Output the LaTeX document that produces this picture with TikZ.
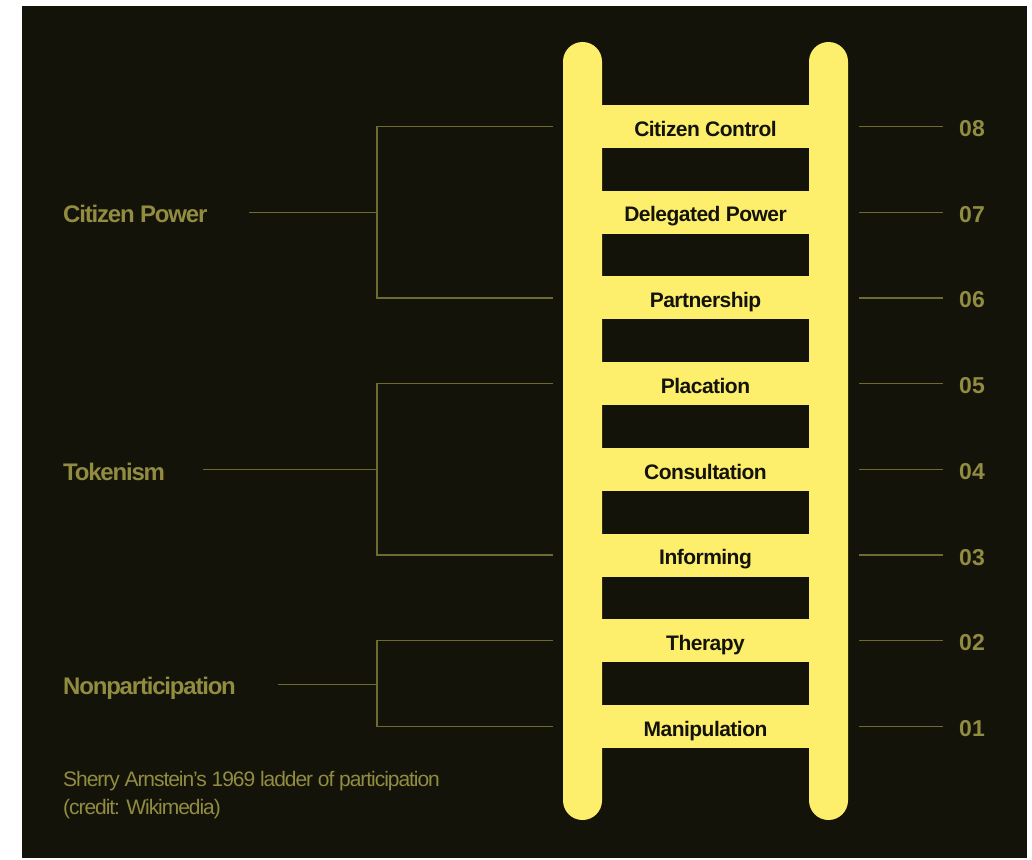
\documentclass[tikz,border=0pt]{standalone}
\usepackage{fontspec}
\setmainfont{Liberation Sans}
\newfontfamily\labfont[LetterSpace=-5]{Liberation Sans}
\newfontfamily\rungfont[LetterSpace=-2.5]{Liberation Sans}
\newfontfamily\capfont[LetterSpace=-5]{Liberation Sans}
\definecolor{bg}{HTML}{13130A}
\definecolor{ladder}{HTML}{FDEE6B}
\definecolor{olive}{HTML}{918C40}
\definecolor{oline}{HTML}{6E6A30}
\begin{document}
\begin{tikzpicture}[x=1pt,y=-1pt,
  rung/.style={rectangle,fill=ladder,minimum width=207pt,minimum height=43pt,inner sep=0pt,
    text height=19.5pt,text depth=0pt,text=bg,font=\rungfont\bfseries\fontsize{21}{25}\selectfont},
  num/.style={inner sep=0pt,text=olive,font=\bfseries\fontsize{23}{27}\selectfont},
  grouplabel/.style={inner sep=0pt,text=olive,font=\labfont\bfseries\fontsize{24}{28}\selectfont},
  caption/.style={inner sep=0pt,text=olive,font=\capfont\fontsize{21}{28}\selectfont},
  conn/.style={draw=oline,line width=1.3pt}]
\useasboundingbox (0,0) rectangle (1032,859);
\fill[white] (0,0) rectangle (1032,859);
\fill[bg] (22,6) rectangle (1027,858);
% rails
\fill[ladder,rounded corners=19.5pt] (563,42) rectangle (602,820);
\fill[ladder,rounded corners=19.5pt] (809,42) rectangle (848,820);
% rungs, numbers, connector ends
\foreach \k/\t/\n in {0/Citizen Control/08,1/Delegated Power/07,2/Partnership/06,3/Placation/05,
    4/Consultation/04,5/Informing/03,6/Therapy/02,7/Manipulation/01}{
  \pgfmathsetmacro\yc{126.5+\k*85.714}
  \node[rung] (r\n) at (705.5,\yc) {\t};
  \node[num,anchor=base east] (n\n) at (985,\yc+10) {\n};
  \coordinate (R\n) at (859,\yc);
  \coordinate (Q\n) at (943,\yc);
  \coordinate (L\n) at (553,\yc);
  \coordinate (B\n) at (377,\yc);
  \draw[conn] (R\n) -- (Q\n);
}
% group labels
\node[grouplabel,anchor=base west] (g1) at (63,222.5) {Citizen Power};
\node[grouplabel,anchor=base west] (g2) at (63,480.5) {Tokenism};
\node[grouplabel,anchor=base west] (g3) at (63,694) {Nonparticipation};
% brackets
\draw[conn] (L08) -- (B08) -- (B06) -- (L06);
\draw[conn] (L05) -- (B05) -- (B03) -- (L03);
\draw[conn] (L02) -- (B02) -- (B01) -- (L01);
\coordinate (s1) at (249,212.2);
\coordinate (s2) at (203,469.7);
\coordinate (s3) at (278,684.6);
\draw[conn] (s1) -- (s1 -| B08);
\draw[conn] (s2) -- (s2 -| B05);
\draw[conn] (s3) -- (s3 -| B02);
% caption
\node[caption,anchor=base west] (c1) at (63,786) {Sherry Arnstein’s 1969 ladder of participation};
\node[caption,anchor=base west] (c2) at (63,814) {(credit: Wikimedia)};
\end{tikzpicture}
\end{document}
